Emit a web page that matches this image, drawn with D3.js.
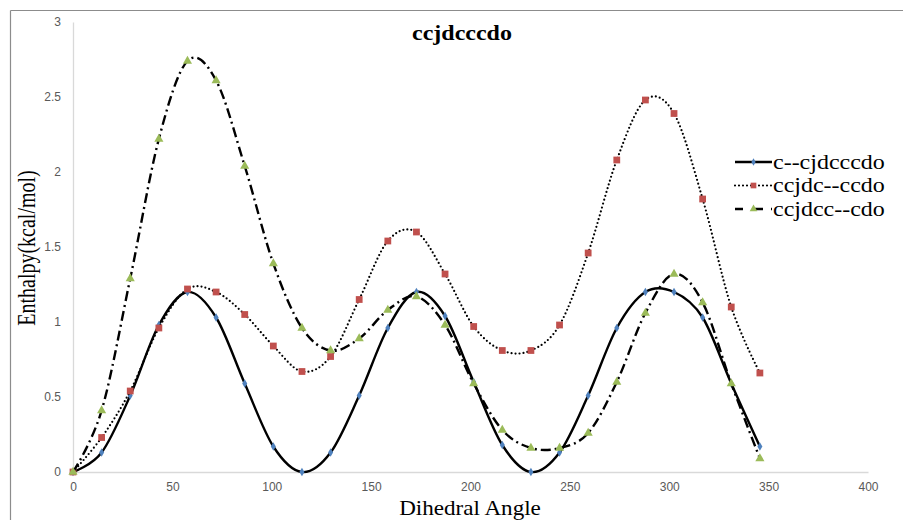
<!DOCTYPE html>
<html>
<head>
<meta charset="utf-8">
<script src="https://cdn.jsdelivr.net/npm/d3@7"></script>
<style>
  body { margin: 0; background: #fff; }
  svg { display: block; }
</style>
</head>
<body>
<svg id="chart"></svg>
<script>
// dihedral angles (deg)
var angles = [0, 14.4, 28.8, 43.2, 57.6, 72, 86.4, 100.8, 115.2, 129.6, 144, 158.4, 172.8,
  187.2, 201.6, 216, 230.4, 244.8, 259.2, 273.6, 288, 302.4, 316.8, 331.2, 345.6];

// enthalpy values (kcal/mol) per rotor
var cCjdcccdo = [0, 0.13, 0.51, 0.98, 1.20, 1.03, 0.59, 0.17, 0, 0.13, 0.51, 0.96, 1.20,
  1.04, 0.60, 0.18, 0, 0.13, 0.51, 0.96, 1.20, 1.20, 1.03, 0.59, 0.17];
var ccjdcCcdo = [0, 0.23, 0.54, 0.96, 1.22, 1.20, 1.05, 0.84, 0.67, 0.77, 1.15, 1.54, 1.60,
  1.32, 0.97, 0.81, 0.81, 0.98, 1.46, 2.08, 2.48, 2.39, 1.82, 1.10, 0.66];
var ccjdccCdo = [0, 0.41, 1.29, 2.22, 2.74, 2.61, 2.04, 1.39, 0.96, 0.81, 0.89, 1.08, 1.17,
  0.98, 0.59, 0.28, 0.16, 0.16, 0.26, 0.60, 1.06, 1.32, 1.13, 0.59, 0.09];

var seriesNames = ["c--cjdcccdo", "ccjdc--ccdo", "ccjdcc--cdo"];
var xTicks = [0, 50, 100, 150, 200, 250, 300, 350, 400];
var yTicks = [0, 0.5, 1, 1.5, 2, 2.5, 3];

var W = 903, H = 520;
var svg = d3.select("#chart").attr("width", W).attr("height", H);

var x = d3.scaleLinear().domain([0, 400]).range([73, 868]);
var y = d3.scaleLinear().domain([0, 3]).range([472, 22]);

// outer frame (top and left edge only visible)
svg.append("line").attr("x1", 10.5).attr("y1", 10.5).attr("x2", W).attr("y2", 10.5)
  .style("stroke", "#8c8c8c").style("stroke-width", 1.2);
svg.append("line").attr("x1", 10.5).attr("y1", 10.5).attr("x2", 10.5).attr("y2", H)
  .style("stroke", "#8c8c8c").style("stroke-width", 1.2);

// axes
var xAxis = svg.append("g").attr("transform", "translate(0," + y(0) + ")")
  .call(d3.axisBottom(x).tickValues(xTicks).tickSize(0).tickPadding(10).tickFormat(d3.format("d")));
var yAxis = svg.append("g").attr("transform", "translate(" + x(0) + ",0)")
  .call(d3.axisLeft(y).tickValues(yTicks).tickSize(0).tickPadding(12).tickFormat(d => d));

[xAxis, yAxis].forEach(function(g) {
  g.select(".domain").style("stroke", "#d9d9d9").style("stroke-width", 1.3);
  g.selectAll("text")
    .style("font-family", "'Liberation Sans', Arial, sans-serif")
    .style("font-size", "12px")
    .style("fill", "#595959");
});

// line styles
var styles = [
  { data: cCjdcccdo, dash: null, width: 2.4, cap: "butt", marker: d3.symbolDiamond, size: 22, color: "#4f81bd" },
  { data: ccjdcCcdo, dash: "0,4", width: 2.2, cap: "round", marker: d3.symbolSquare, size: 46, color: "#c0504d" },
  { data: ccjdccCdo, dash: "10,4,2,4", width: 2.4, cap: "butt", marker: d3.symbolTriangle, size: 36, color: "#9bbb59" }
];

var line = d3.line()
  .x(d => x(d[0]))
  .y(d => y(d[1]))
  .curve(d3.curveCatmullRom.alpha(0));

styles.forEach(function(s) {
  var pts = angles.map((a, i) => [a, s.data[i]]);
  svg.append("path")
    .datum(pts)
    .attr("d", line)
    .style("fill", "none")
    .style("stroke", "#000")
    .style("stroke-width", s.width)
    .style("stroke-linecap", s.cap)
    .style("stroke-dasharray", s.dash);

  svg.append("g").selectAll("path")
    .data(pts)
    .enter().append("path")
    .attr("transform", d => "translate(" + x(d[0]) + "," + y(d[1]) + ")")
    .attr("d", d3.symbol().type(s.marker).size(s.size))
    .style("fill", s.color);
});

// title
svg.append("text")
  .attr("transform", "translate(462,40) scale(1.2,1)")
  .attr("text-anchor", "middle")
  .style("font-family", "'Liberation Serif', 'Times New Roman', serif")
  .style("font-weight", "bold")
  .style("font-size", "20px")
  .text("ccjdcccdo");

// axis titles
svg.append("text")
  .attr("transform", "translate(35,248) rotate(-90) scale(1,1.25)")
  .attr("text-anchor", "middle")
  .style("font-family", "'Liberation Serif', 'Times New Roman', serif")
  .style("font-size", "20px")
  .text("Enthalpy(kcal/mol)");

svg.append("text")
  .attr("transform", "translate(470,515) scale(1.1,1)")
  .attr("text-anchor", "middle")
  .style("font-family", "'Liberation Serif', 'Times New Roman', serif")
  .style("font-size", "21px")
  .text("Dihedral Angle");

// legend
var legend = svg.append("g");
styles.forEach(function(s, i) {
  var ly = 162 + i * 23.5;
  legend.append("line")
    .attr("x1", 735).attr("x2", 772).attr("y1", ly).attr("y2", ly)
    .style("stroke", "#000")
    .style("stroke-width", s.width)
    .style("stroke-linecap", s.cap)
    .style("stroke-dasharray", i == 2 ? "8,12,8" : s.dash);
  legend.append("path")
    .attr("transform", "translate(753.5," + ly + ")")
    .attr("d", d3.symbol().type(s.marker).size(s.size * 0.7))
    .style("fill", s.color);
  legend.append("text")
    .attr("transform", "translate(773," + (ly + 6.5) + ") scale(1.2,1)")
    .style("font-family", "'Liberation Serif', 'Times New Roman', serif")
    .style("font-size", "20px")
    .text(seriesNames[i]);
});
</script>
</body>
</html>
